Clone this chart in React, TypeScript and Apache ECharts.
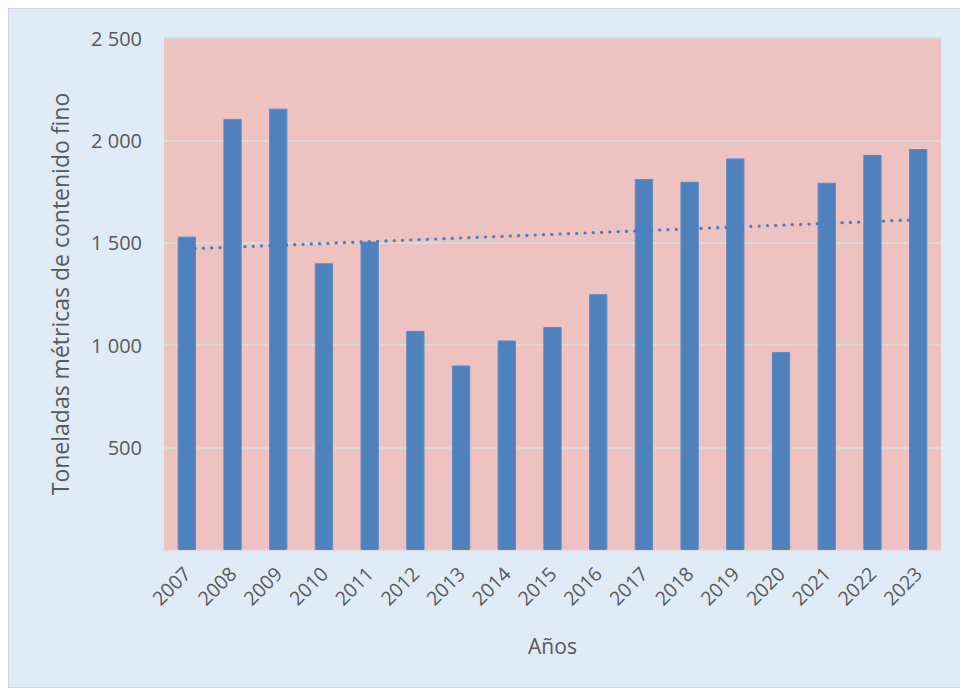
import React, { useEffect, useRef } from "react";
import * as echarts from "echarts";

const years = [
  "2007", "2008", "2009", "2010", "2011", "2012", "2013", "2014", "2015",
  "2016", "2017", "2018", "2019", "2020", "2021", "2022", "2023",
];
const tonnes = [
  1530, 2105, 2155, 1400, 1506, 1070, 901, 1023, 1089,
  1249, 1811, 1798, 1912, 967, 1793, 1929, 1958,
];
// linear trend line endpoints (first and last year)
const trendEnds = [1470, 1613];
const yAxisTitle = "Toneladas métricas de contenido fino";
const xAxisTitle = "Años";

const FONT = "'Open Sans', 'Noto Sans', sans-serif";
const TEXT = "#595959";

export default function App() {
  const ref = useRef<HTMLDivElement>(null);

  useEffect(() => {
    if (!ref.current) return;
    const chart = echarts.init(ref.current, undefined, { renderer: "svg" });
    const last = years.length - 1;
    const trend = years.map((_, i) =>
      i === 0 ? trendEnds[0] : i === last ? trendEnds[1] : null
    );
    chart.setOption({
      animation: false,
      backgroundColor: "#dfecf8",
      textStyle: { fontFamily: FONT },
      grid: {
        left: 155,
        right: 26,
        top: 29,
        bottom: 137,
        show: true,
        backgroundColor: "#efc2c2",
        borderWidth: 0,
      },
      xAxis: {
        type: "category",
        data: years,
        name: xAxisTitle,
        nameLocation: "middle",
        nameGap: 85,
        nameTextStyle: { fontSize: 21, color: TEXT, fontFamily: FONT },
        axisLine: { show: true, lineStyle: { color: "#d9d9d9", width: 2 } },
        axisTick: { show: false },
        axisLabel: {
          rotate: 45,
          fontSize: 19.5,
          color: TEXT,
          fontFamily: FONT,
          margin: 20,
          interval: 0,
        },
      },
      yAxis: {
        type: "value",
        min: 0,
        max: 2500,
        interval: 500,
        name: yAxisTitle,
        nameLocation: "middle",
        nameGap: 93,
        nameTextStyle: { fontSize: 23, color: TEXT, fontFamily: FONT },
        axisLine: { show: false },
        axisTick: { show: false },
        axisLabel: {
          fontSize: 20,
          color: TEXT,
          fontFamily: FONT,
          margin: 22,
          formatter: (v: number) =>
            v === 0 ? "" : String(v).replace(/\B(?=(\d{3})+(?!\d))/g, " "),
        },
        splitLine: { show: true, lineStyle: { color: "#d9d9d9", width: 2 } },
      },
      series: [
        {
          type: "bar",
          data: tonnes,
          barWidth: "40%",
          itemStyle: { color: "#4f81bd", borderColor: "#5a8ac4", borderWidth: 1 },
        },
        {
          type: "line",
          data: trend,
          connectNulls: true,
          showSymbol: false,
          symbol: "none",
          lineStyle: {
            color: "#4a7ebb",
            width: 3.2,
            type: [0.1, 8.2],
            cap: "round",
          },
          z: 3,
        },
      ],
    });
    return () => chart.dispose();
  }, []);

  return (
    <div
      style={{
        width: 960,
        height: 680,
        border: "1px solid #d4d4d4",
        boxSizing: "border-box",
      }}
    >
      <div ref={ref} style={{ width: 958, height: 678 }} />
    </div>
  );
}
